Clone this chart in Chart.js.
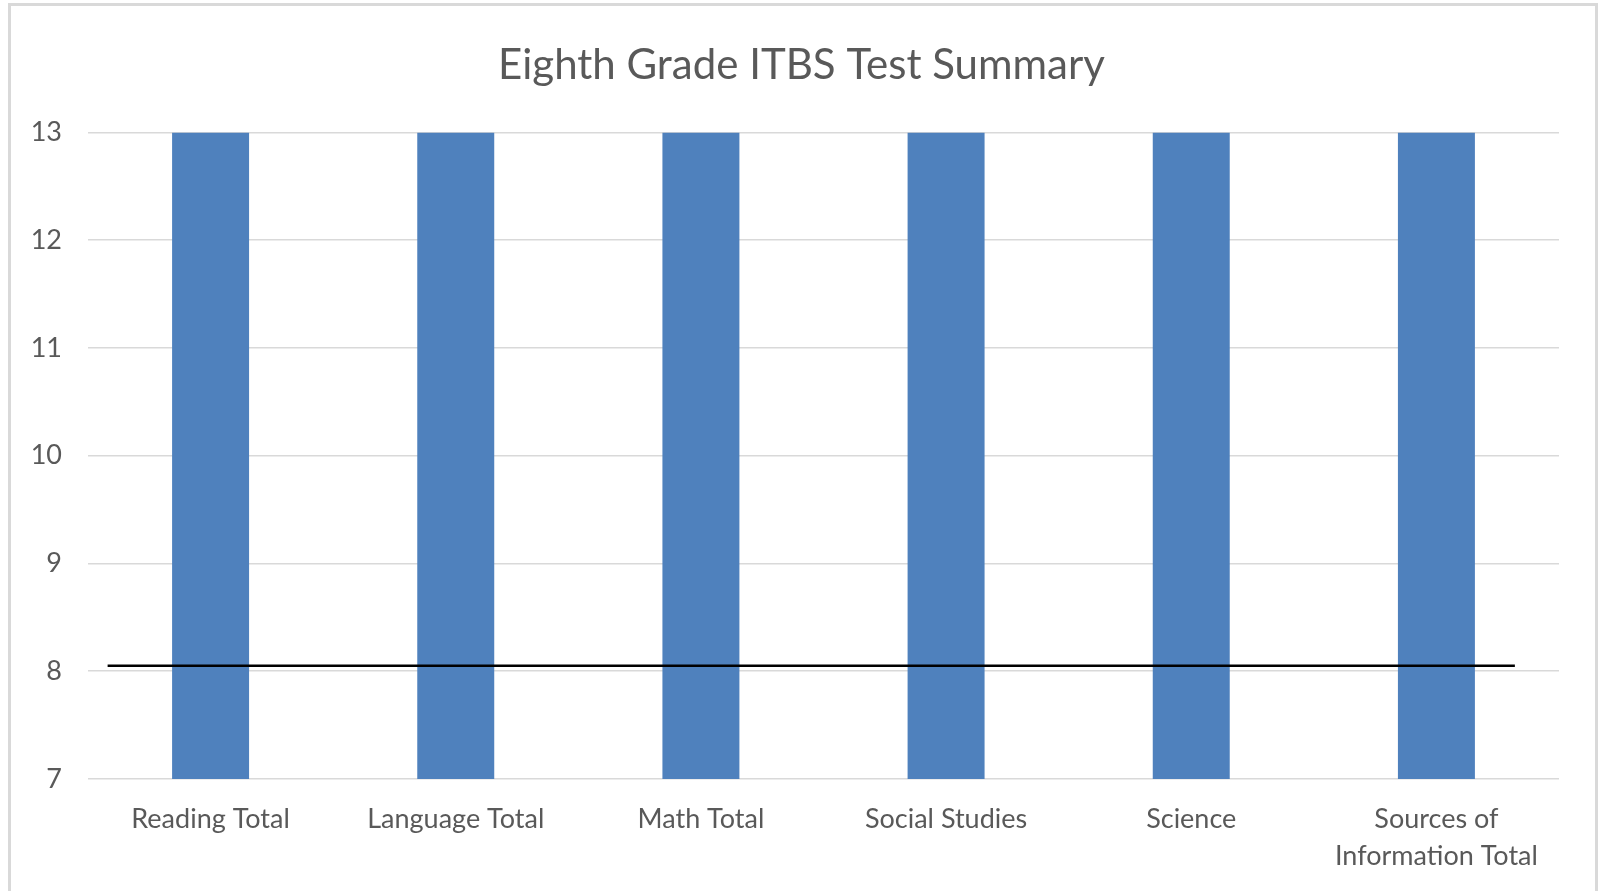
<!DOCTYPE html>
<html>
<head>
<meta charset="utf-8">
<script src="https://cdn.jsdelivr.net/npm/chart.js@4/dist/chart.umd.min.js"></script>
<style>
  html, body { margin: 0; padding: 0; background: #fff; }
  body { width: 1603px; height: 891px; overflow: hidden; position: relative; }
  #frame {
    position: absolute; left: 8px; top: 3px; width: 1584px; height: 920px;
    border: 3px solid #d9d9d9; box-sizing: content-box;
  }
  #wrap { position: absolute; left: 0; top: 0; width: 1603px; height: 891px; }
</style>
</head>
<body>
<div id="frame"></div>
<div id="wrap"><canvas id="itbsChart"></canvas></div>
<script>
const categorias = ['Reading Total', 'Language Total', 'Math Total', 'Social Studies', 'Science', ['Sources of', 'Information Total']];
const notas = [13, 13, 13, 13, 13, 13];
const nivelSerie = 8.05;
const nivelInicio = -0.42;
const nivelFim = 5.32;
const ticksY = [7, 8, 9, 10, 11, 12, 13];

const corTexto = '#595959';
const corGrade = '#d9d9d9';

new Chart(document.getElementById('itbsChart'), {
  data: {
    labels: categorias,
    datasets: [
      {
        type: 'bar',
        label: 'Score',
        data: notas,
        backgroundColor: '#4f81bd',
        barPercentage: 0.314,
        categoryPercentage: 1,
        grouped: false,
        order: 2
      },
      {
        type: 'line',
        label: 'Grade level',
        xAxisID: 'x2',
        data: [{ x: nivelInicio, y: nivelSerie }, { x: nivelFim, y: nivelSerie }],
        borderColor: '#000',
        borderWidth: 2.5,
        pointRadius: 0,
        fill: false,
        order: 1
      }
    ]
  },
  options: {
    responsive: true,
    maintainAspectRatio: false,
    animation: false,
    layout: { padding: 0 },
    plugins: {
      legend: { display: false },
      tooltip: { enabled: false },
      title: {
        display: true,
        text: 'Eighth Grade ITBS Test Summary',
        color: corTexto,
        font: { family: 'Lato', size: 42, weight: 'normal' },
        padding: { top: 40, bottom: 42 }
      }
    },
    scales: {
      x: {
        type: 'category',
        grid: { display: false, drawTicks: false },
        border: { display: false },
        ticks: {
          color: corTexto,
          font: { family: 'Lato', size: 27, lineHeight: 1.4 },
          padding: 21,
          maxRotation: 0,
          autoSkip: false
        },
        afterFit: s => { s.height = 112; }
      },
      x2: {
        type: 'linear',
        display: false,
        min: -0.5,
        max: 5.5
      },
      y: {
        min: ticksY[0],
        max: ticksY[ticksY.length - 1],
        afterBuildTicks: s => { s.ticks = ticksY.map(v => ({ value: v })); },
        grid: { color: corGrade, lineWidth: 1.5, drawTicks: false },
        border: { display: false },
        ticks: {
          color: corTexto,
          font: { family: 'Lato', size: 27 },
          padding: 26
        },
        afterFit: s => { s.width = 88; }
      },
      // espaço vazio à direita
      yDir: {
        position: 'right',
        grid: { display: false, drawTicks: false },
        border: { display: false },
        ticks: { display: false },
        afterFit: s => { s.width = 44; }
      }
    }
  }
});
</script>
</body>
</html>
